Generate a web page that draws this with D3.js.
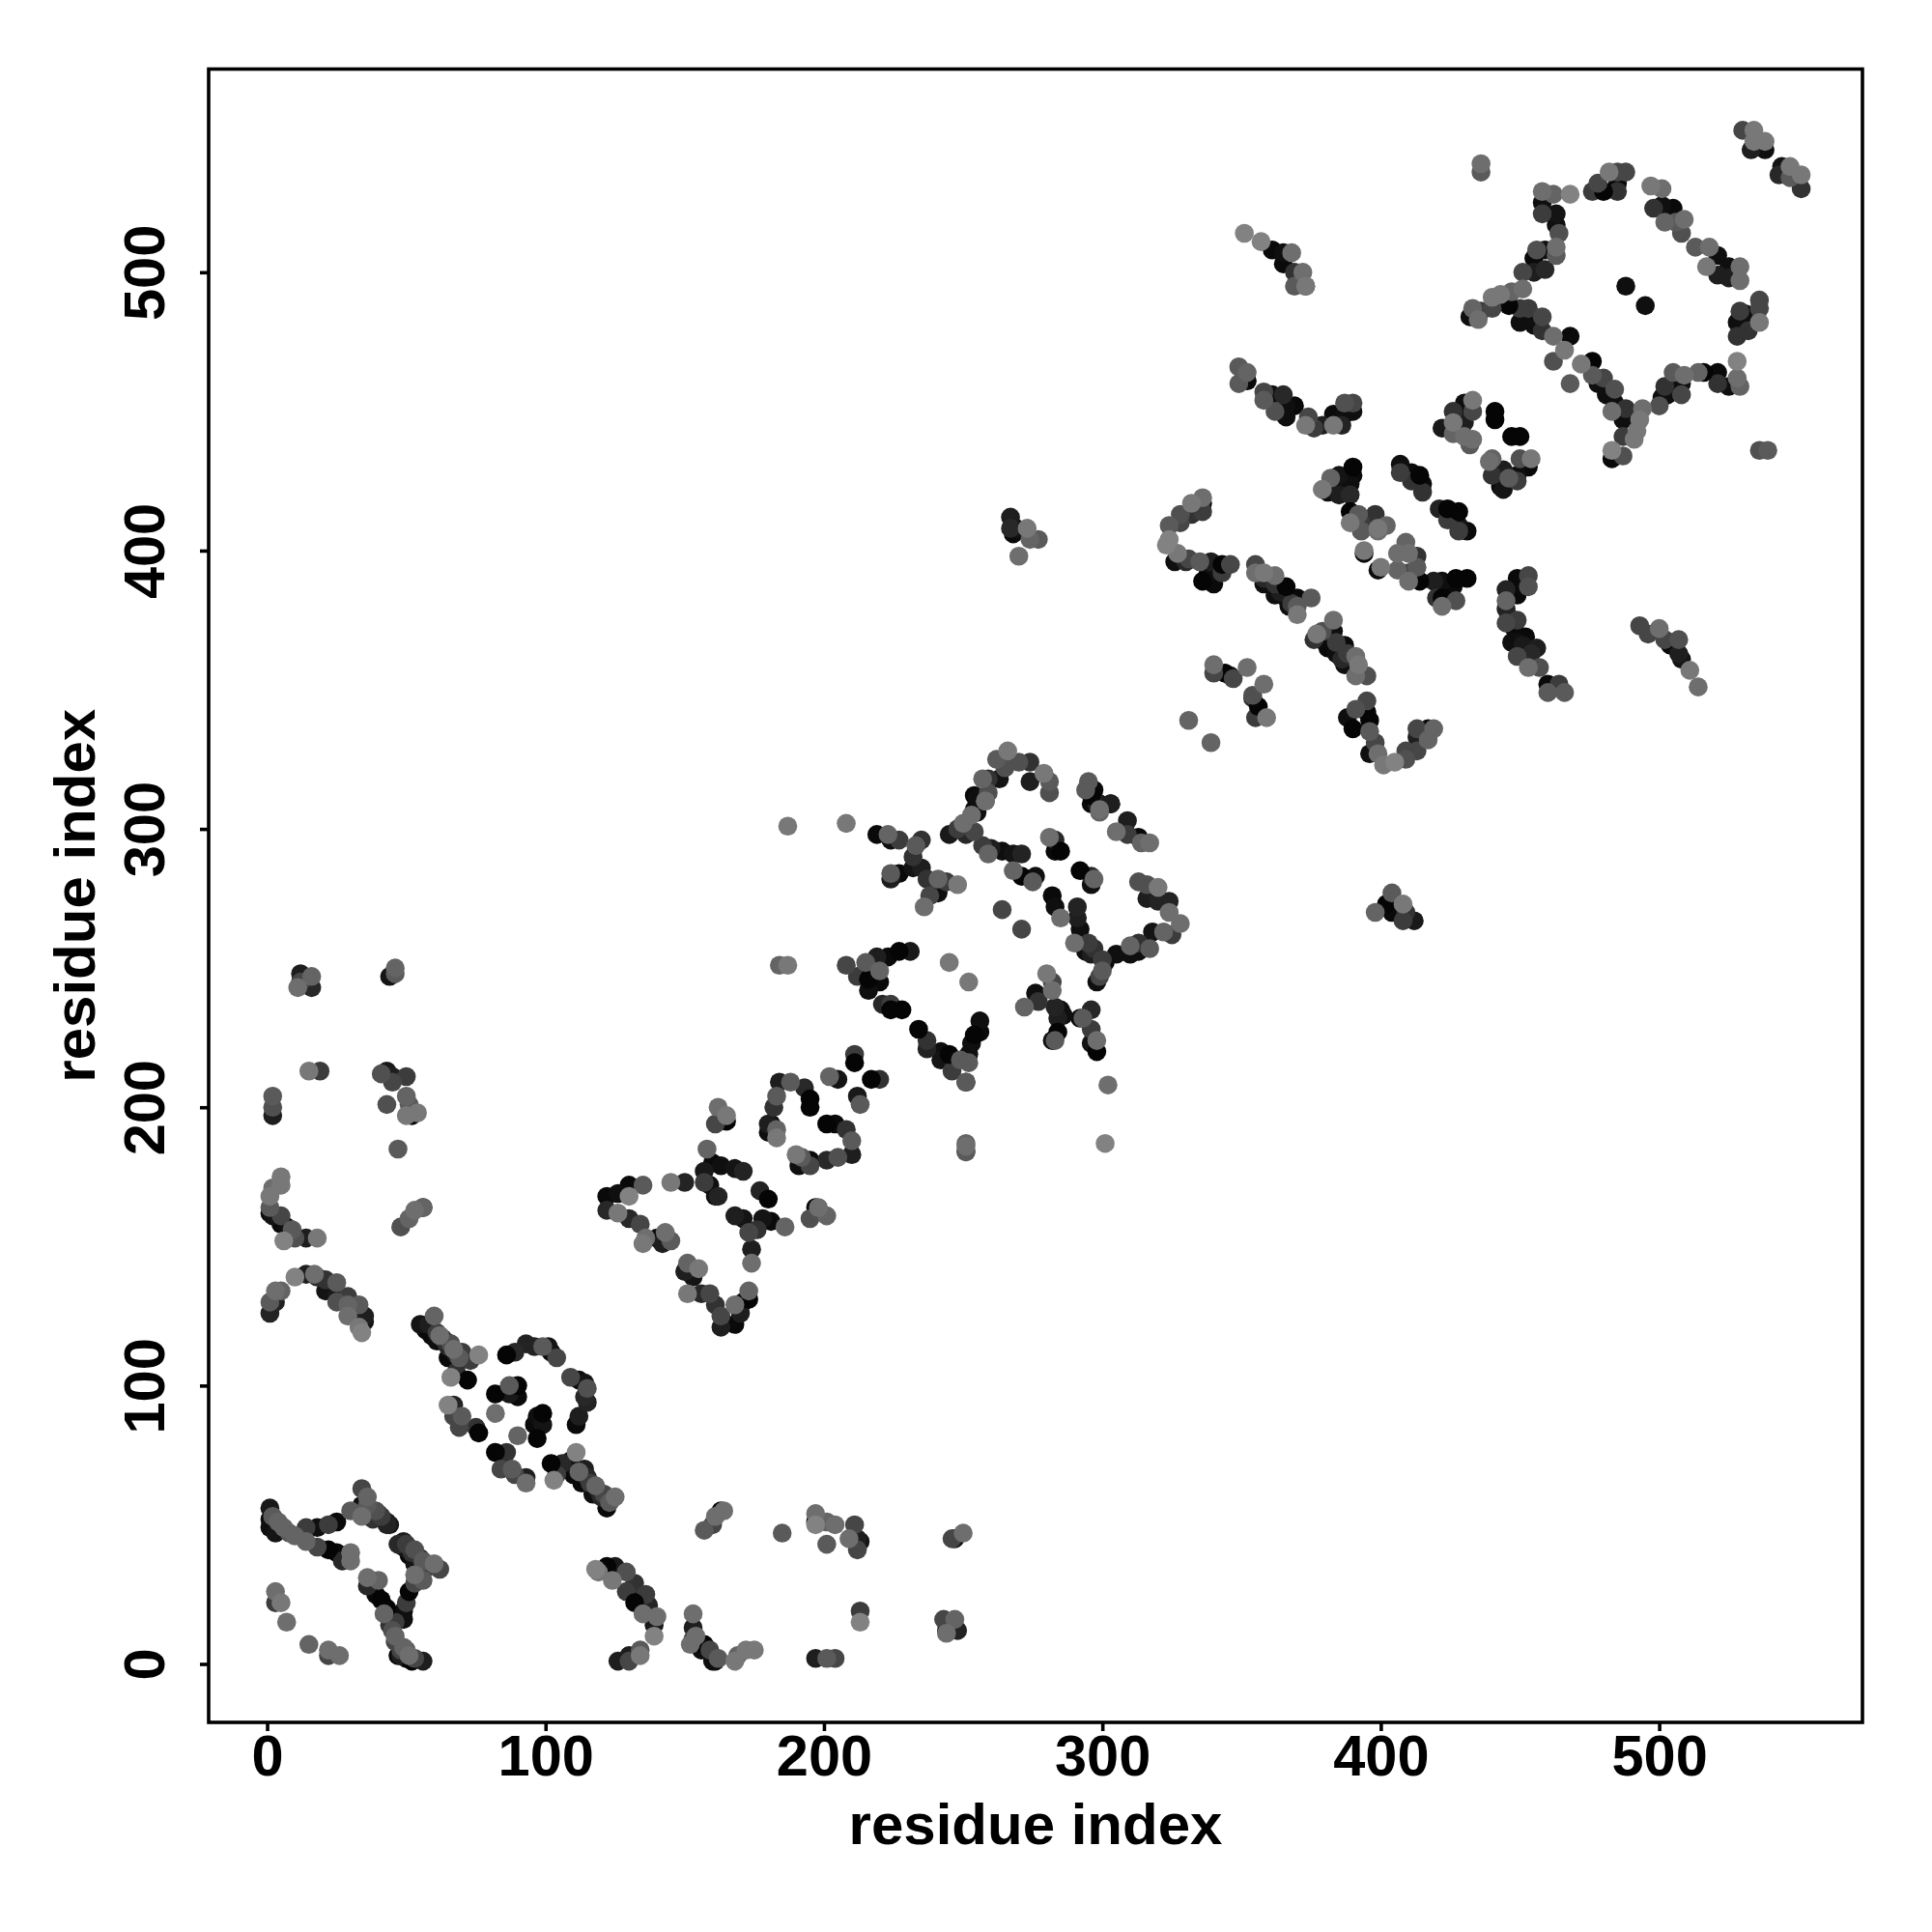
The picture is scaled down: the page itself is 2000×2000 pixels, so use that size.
<!DOCTYPE html>
<html><head><meta charset="utf-8">
<script src="https://cdn.jsdelivr.net/npm/d3@7/dist/d3.min.js"></script>
<style>html,body{margin:0;padding:0;background:#fff}svg{display:block}text{font-family:"Liberation Sans",Arial,sans-serif;font-weight:bold;fill:#000}</style>
</head><body><svg id="c" width="2000" height="2000"></svg>
<script>
const axisLabel = "residue index";
const tickValues = [0,100,200,300,400,500];
const residueDomain = [-21,573];
// each contact: [residue i, residue j, shade]
const contactsA = [[1,126,35],[3,130,35],[1,130,90],[3,134,110],[5,134,100],[10,139,130],[14,140,30],[17,140,110],[18,139,40],[21,134,20],[21,138,50],[25,137,90],[25,130,80],[25,133,25],[29,132,60],[29,129,100],[33,129,90],[29,125,110],[34,119,130],[33,121,120],[35,125,30],[35,123,20]];
const contactsB = [[55,122,20],[57,120,10],[60,125,100],[59,118,10],[62,118,110],[64,116,50],[61,116,15],[65,114,40],[67,113,110],[65,110,10],[69,110,90],[71,110,10],[73,109,60],[76,111,130],[66,103,130],[68,105,50],[72,102,5],[58,122,30],[61,119,60],[63,117,20],[66,115,80],[68,111,30],[70,112,60]];
const contactsC = [[86,111,5],[89,112,40],[93,115,35],[96,114,35],[99,114,90],[101,114,20],[102,112,10],[104,110,70],[109,103,70],[112,102,10],[114,101,20],[115,99,80],[115,94,35],[114,96,40],[112,89,30],[111,86,10],[82,97,5],[87,100,90],[87,97,25],[90,96,10],[90,100,5],[82,90,110],[97,89,15],[96,86,10],[99,90,5],[99,86,20],[97,81,5],[90,82,100],[65,93,130],[67,93,35],[67,89,70],[69,85,70],[70,89,90],[75,85,50],[76,83,5],[82,76,5],[86,76,50],[84,70,70],[88,70,90],[89,68,70],[93,65,110],[93,67,30]];
const contactsD = [[102,72,5],[104,68,60],[103,66,130],[111,76,130],[109,73,20],[112,69,100],[110,68,10],[115,67,40],[113,65,10],[118,64,100],[117,61,15],[120,60,40],[122,56,10],[122,59,20],[123,58,90],[125,60,110],[106,72,40],[114,70,30],[116,65,60],[119,62,30],[121,61,70]];
const contactsE = [[1,56,25],[2,53,90],[1,52,15],[1,49,15],[4,51,100],[3,47,20],[6,49,100],[8,47,90],[10,46,100],[14,49,60],[14,44,100],[18,49,15],[22,50,60],[25,51,10],[30,55,90],[18,42,70],[22,41,5],[25,40,10],[27,37,40],[30,40,110],[30,37,110],[34,63,70],[36,60,100],[34,57,15],[36,57,90],[39,55,80],[40,54,60],[43,51,30],[43,50,35],[34,53,110],[38,52,50],[49,44,30],[50,43,60],[49,42,20],[53,41,80],[51,39,10],[56,37,90],[53,36,20],[60,36,110],[62,34,70],[56,30,90],[53,32,110],[53,29,70],[36,31,110],[40,30,100],[36,28,40],[39,25,10],[41,23,5],[43,20,5],[51,26,5],[50,22,60],[49,19,15],[49,16,15],[46,15,60],[42,18,100],[46,10,100],[46,8,70],[49,6,100],[47,3,10],[51,3,110],[50,2,10],[52,1,5],[48,5,70],[56,1,30],[3,26,110],[3,22,60],[5,22,120],[7,15,110],[15,7,100],[22,3,70],[22,5,110],[26,3,110],[38,55,30],[41,53,60],[44,50,25],[47,43,40],[52,40,50],[58,35,70],[55,38,40],[48,3,30],[50,5,90],[53,2,70],[45,12,80],[44,14,50]];
const contactsF = [[118,34,130],[119,33,120],[122,35,5],[125,35,25],[124,30,120],[129,26,60],[129,33,80],[132,29,50],[132,24,10],[136,25,60],[132,22,5],[137,21,35],[135,18,110],[139,14,25],[140,17,110],[139,10,130],[126,1,30],[130,1,70],[130,3,30],[134,3,120],[134,5,90],[153,18,110],[153,13,30],[152,7,110],[153,9,70],[154,10,110],[157,7,5],[156,5,15],[159,5,70],[161,1,10],[160,1,15],[162,2,90],[168,1,120],[169,3,100],[172,5,120],[175,5,120],[157,48,90],[160,50,70],[163,55,10],[161,53,110],[164,55,110],[185,47,90],[197,54,110],[197,50,130],[197,51,10],[201,51,100],[204,50,110],[211,50,70],[201,43,90],[209,45,110],[212,45,30],[212,41,70],[213,44,20],[246,45,70],[247,45,15],[250,47,110],[213,19,60],[213,15,130],[197,2,30],[201,2,90],[204,2,70],[243,16,70],[247,16,100],[244,11,110],[244,12,10],[248,12,35]];
const contactsG = [[12,248,30],[12,245,70],[11,243,110],[16,243,40],[16,247,100],[44,247,20],[46,248,90],[46,250,100],[15,213,120],[19,213,60],[41,212,80],[43,213,25],[45,209,70],[45,211,30],[50,211,60],[2,204,90],[2,197,30],[2,200,80],[43,201,80],[50,204,100],[51,201,90],[50,197,120],[52,197,10],[54,198,120],[47,185,90],[5,175,120],[5,172,120],[2,171,110],[1,168,120],[1,162,10],[1,164,90],[2,161,20],[5,161,70],[5,158,10],[7,157,15],[9,156,90],[6,152,130],[10,153,80],[14,153,30],[18,153,120],[56,164,15],[56,164,100],[53,163,110],[51,160,100],[48,157,80]];
const contactsH = [[122,168,10],[122,163,40],[126,169,15],[130,172,10],[130,168,130],[135,172,90],[126,162,120],[130,160,40],[134,158,70],[135,151,120],[136,153,110],[140,153,15],[142,151,30],[143,155,110],[145,152,90],[145,173,120],[150,173,35],[158,185,100],[160,180,10],[163,179,15],[157,173,60],[157,177,25],[159,172,15],[161,168,15],[162,168,35],[168,178,20],[171,177,35],[161,194,70],[165,195,5],[162,200,110],[165,197,120],[177,170,35],[180,167,5],[168,161,30],[171,160,20],[173,155,70],[176,156,50],[178,160,20],[181,159,10],[186,157,100],[174,144,110],[174,149,30],[151,144,100],[150,141,30],[155,142,120],[153,139,20],[151,133,120],[156,133,40],[159,133,70],[161,129,50],[163,125,70],[163,121,30],[168,122,10],[170,126,30],[168,129,110],[171,130,10],[173,131,5],[173,134,100],[184,209,30],[188,209,90],[193,207,40],[195,203,5],[195,200,5],[183,204,90],[182,200,50],[180,194,30],[181,194,10],[180,191,15],[183,189,120],[183,192,100],[201,194,5],[204,194,10],[208,192,50],[210,188,90],[210,183,30],[205,182,80],[201,181,40],[191,179,15],[190,183,120],[192,182,90],[195,181,10],[195,179,70],[195,160,80],[197,164,10],[198,164,110],[201,161,100],[202,211,100],[205,210,20],[211,216,5],[211,219,60],[217,210,5],[220,210,50],[212,204,25],[213,201,90],[251,184,90],[251,186,110]];
const contactsI = [[187,301,120],[208,302,120],[219,298,10],[223,298,100],[224,296,15],[227,296,60],[233,294,90],[235,296,50],[232,290,50],[224,282,30],[224,284,90],[227,284,10],[232,286,20],[235,286,30],[237,282,50],[241,282,100],[244,281,60],[241,277,15],[238,276,70],[236,272,110],[248,280,120],[245,298,25],[248,300,60],[250,302,110],[251,298,40],[254,299,70],[257,294,60],[259,291,100],[260,293,30],[264,292,15],[268,291,20],[271,291,35],[268,285,100],[271,283,5],[275,281,90],[276,283,15],[253,305,110],[254,307,10],[255,311,15],[258,310,110],[259,313,80],[264,271,70],[271,264,70],[281,297,110],[283,296,40],[283,292,10],[285,292,5],[292,285,5],[296,283,40],[296,280,15],[297,282,100],[282,276,10],[283,272,15],[285,268,110],[291,272,35],[291,268,30],[292,264,15],[290,259,110],[295,259,60],[297,257,50],[294,256,15],[296,255,30],[301,252,10],[300,253,60],[300,249,90],[299,247,70],[298,245,15],[305,255,15],[310,258,100],[310,255,15],[313,256,15],[313,259,50],[317,257,90],[318,263,20],[322,263,100],[325,262,60],[328,266,110],[324,270,110],[324,274,35],[320,274,35],[316,275,30],[313,281,80],[316,280,80],[320,279,120],[309,303,30],[305,299,110],[309,298,60],[313,297,10],[314,295,100],[317,295,110],[296,312,5],[296,309,10],[298,309,30],[299,307,110],[303,309,15]];
const contactsJ = [[208,251,70],[212,247,60],[215,252,90],[219,254,30],[223,254,10],[227,256,5],[231,256,25],[220,249,100],[216,246,5],[220,245,10],[216,242,15],[221,237,40],[224,237,60],[224,235,5],[228,235,5],[245,252,120],[252,245,120],[184,251,100],[187,251,120],[234,228,5],[237,224,50],[237,221,35],[242,220,15],[242,217,20],[245,219,5],[246,213,60],[251,209,15],[251,209,90],[249,217,90],[252,219,15],[252,216,90],[253,223,15],[254,226,5],[256,227,10],[256,231,15],[251,184,90],[251,187,100],[301,187,130],[302,208,110],[280,248,120],[282,242,110],[282,245,70],[276,241,15],[277,238,50],[272,236,100],[283,236,35],[285,235,15],[286,233,15],[284,232,30],[284,227,5],[282,224,15],[283,224,90],[292,232,10],[293,232,90],[296,235,40],[296,228,60],[296,223,20],[298,220,5],[298,224,110]];
const contactsK = [[259,318,50],[257,318,100],[263,318,20],[262,325,90],[265,322,80],[266,328,120],[270,324,80],[274,324,50],[274,317,30],[279,320,120],[281,313,80],[281,317,90],[254,312,10],[255,306,15],[258,310,110],[294,314,90],[295,317,90],[297,314,10],[299,309,20],[299,306,100],[303,309,30],[267,412,30],[267,408,40],[269,408,20],[268,406,10],[273,408,120],[274,404,100],[277,404,90],[270,398,110],[402,273,5],[404,277,90],[404,270,10],[398,270,100],[408,273,120],[409,270,50],[408,267,60],[412,267,25]];
const contactsL = [[336,417,15],[336,419,110],[332,417,120],[336,414,60],[332,413,50],[328,413,80],[328,410,70],[324,409,90],[324,404,130],[323,402,130],[326,396,15],[327,399,120],[330,396,40],[331,397,70],[335,396,90],[336,389,5],[340,388,10],[338,392,15],[339,396,30],[343,392,60],[343,395,5],[346,395,70],[355,392,110],[355,395,70],[358,392,120],[358,388,15],[362,391,110],[362,388,50],[362,384,15],[366,383,15],[366,387,5],[370,383,10],[367,380,15],[375,383,90],[370,377,120],[370,380,90],[377,370,120],[379,371,80],[383,371,15],[383,375,110],[380,367,10],[384,363,15],[384,367,60],[387,366,10],[388,363,60],[387,359,15],[391,362,110],[391,355,110],[392,359,120],[395,355,80],[340,356,70],[340,359,110],[344,356,5],[346,355,20],[347,354,70],[352,358,110],[358,352,110],[354,347,50],[354,348,80],[356,344,5],[355,340,60],[359,340,120],[331,339,100],[339,331,100],[358,390,40],[364,385,30],[368,381,60],[376,368,50],[381,365,10],[386,361,40]];
const contactsM = [[388,340,15],[390,336,5],[391,343,80],[395,342,5],[395,346,70],[396,339,5],[396,335,90],[398,331,70],[396,327,15],[399,327,110],[409,328,70],[409,325,80],[405,324,130],[401,323,120],[413,336,70],[413,333,30],[413,328,70],[417,336,10],[417,332,100],[419,336,100],[379,422,120],[382,426,100],[381,421,15],[385,420,30],[385,424,15],[385,427,20],[389,420,40],[389,424,15],[390,427,10],[390,430,5],[389,414,5],[389,410,120],[392,413,90],[393,407,90],[393,410,60],[398,413,50],[399,408,120],[399,407,110],[402,409,100],[394,399,10],[394,400,120],[407,431,15],[407,428,60],[411,425,50],[411,428,10],[414,427,5],[415,421,50],[415,424,10],[421,415,35],[424,411,60],[424,415,5],[428,414,5],[428,407,60],[428,409,20],[431,407,10],[406,393,100],[406,399,110],[409,403,100],[410,392,70],[410,399,110],[413,394,90],[413,398,50],[399,393,10],[400,394,120],[410,389,110],[414,389,5],[419,389,30],[420,383,50],[422,380,110],[422,383,5],[422,389,15],[427,382,80],[426,387,10],[427,390,5],[431,390,5]];
const contactsN = [[445,386,35],[445,382,100],[449,390,10],[449,384,10],[453,387,80],[453,391,70],[445,379,35],[445,374,70],[449,375,60],[447,367,15],[449,367,15],[452,369,10],[456,365,30],[449,362,70],[453,362,15],[453,358,110],[457,358,80],[460,349,90],[460,352,10],[464,352,60],[466,349,90],[446,376,30],[448,372,10],[451,366,25],[454,363,40],[422,444,25],[426,450,50],[426,446,120],[428,447,15],[430,453,15],[430,446,30],[433,450,70],[433,454,120],[426,442,100],[430,441,110],[433,440,110],[432,438,90],[441,447,5],[441,450,5],[447,441,5],[450,441,5],[439,432,110],[440,433,100],[440,427,50],[444,429,30],[443,423,10],[444,422,20],[446,426,90],[449,425,60],[449,427,15],[450,433,80],[453,430,10],[454,433,120],[349,460,90],[349,466,90],[352,461,10],[352,464,100],[358,454,90],[358,457,70],[361,456,15],[365,456,40],[362,450,80],[366,448,15],[366,452,15],[369,452,10],[373,445,120],[376,444,60],[374,448,70],[379,445,30],[383,445,120],[386,445,35],[383,449,10],[387,449,15],[390,450,15],[387,453,80],[390,453,70]];
const contactsO = [[351,514,130],[357,511,130],[361,508,10],[365,503,10],[365,507,15],[368,507,110],[369,500,50],[372,500,110],[369,495,90],[373,495,50],[373,495,120],[436,536,90],[436,539,110],[530,551,70],[533,544,30],[534,547,120],[534,551,120],[538,544,15],[538,547,120],[544,538,20],[543,535,40],[547,538,120],[547,534,90],[551,530,50],[551,535,120],[458,529,110],[462,528,100],[468,528,130],[458,525,15],[458,521,60],[463,521,20],[463,517,15],[464,514,80],[456,508,80],[459,508,15],[463,506,90],[463,509,110],[455,505,10],[459,501,40],[455,500,30],[451,500,70],[476,529,60],[480,529,5],[478,532,70],[485,529,50],[485,532,10],[482,536,120],[485,536,70],[488,536,70],[497,531,120],[498,523,50],[501,524,15],[501,530,110],[505,523,10],[506,518,90],[502,518,100],[509,519,110],[508,514,80],[513,509,90],[518,509,110],[521,506,15],[517,502,120],[521,499,30],[525,502,15],[525,498,30],[529,502,110],[529,497,110],[488,495,15],[495,488,15]];
const contactsP = [[529,486,60],[531,485,15],[528,482,15],[532,479,50],[528,477,50],[536,482,120],[536,487,70],[536,490,70],[528,468,130],[521,464,10],[516,464,5],[514,464,100],[521,460,50],[525,459,15],[528,462,110],[529,459,100],[505,464,90],[509,463,110],[508,460,15],[508,456,70],[502,459,50],[503,456,15],[500,452,80],[501,455,15],[488,451,50],[487,447,15],[494,451,110],[493,447,120],[492,443,120],[491,440,120],[487,441,60],[483,433,10],[483,436,130],[487,434,80],[476,468,5],[472,467,120],[480,462,70],[484,458,80],[476,463,90],[478,460,15],[481,456,15],[484,453,15],[483,450,110],[468,460,90],[462,468,80],[462,477,110],[468,477,10],[466,472,120],[458,484,70],[453,487,60],[450,482,15],[450,487,60],[455,481,15],[458,479,50],[446,488,5],[451,494,110],[447,493,100],[443,492,120],[440,491,120],[440,487,70],[432,484,15],[436,486,60],[433,487,100],[435,483,110],[536,436,80],[539,436,90],[493,373,70],[496,370,70],[500,372,110],[502,368,70],[504,366,10],[507,368,80],[507,363,30],[508,361,20],[511,357,120],[514,351,110]];
const contacts = [contactsA,contactsB,contactsC,contactsD,contactsE,contactsF,contactsG,contactsH,contactsI,contactsJ,contactsK,contactsL,contactsM,contactsN,contactsO,contactsP].flat();

const plotLeft=216,plotRight=1928,plotTop=71.5,plotBottom=1783;
const x=d3.scaleLinear().domain(residueDomain).range([plotLeft,plotRight]);
const y=d3.scaleLinear().domain(residueDomain).range([plotBottom,plotTop]);
const svg=d3.select("#c");
const drawKey=d=>d[2]<=5?65:d[2];
const ordered=contacts.slice().sort((a,b)=>d3.ascending(drawKey(a),drawKey(b)));
svg.append("g").selectAll("circle").data(ordered).join("circle")
  .attr("cx",d=>x(d[0])).attr("cy",d=>y(d[1])).attr("r",9.8)
  .attr("fill",d=>d3.rgb(d[2],d[2],d[2]).formatHex());
svg.append("rect").attr("x",plotLeft).attr("y",plotTop).attr("width",plotRight-plotLeft).attr("height",plotBottom-plotTop)
  .attr("fill","none").attr("stroke","#000").attr("stroke-width",3.6);
const gx=svg.append("g").attr("transform",`translate(0,${plotBottom})`)
  .call(d3.axisBottom(x).tickValues(tickValues).tickSize(9).tickPadding(0));
const gy=svg.append("g").attr("transform",`translate(${plotLeft},0)`)
  .call(d3.axisLeft(y).tickValues(tickValues).tickSize(9).tickPadding(0));
[gx,gy].forEach(g=>{g.select(".domain").remove();g.selectAll(".tick line").attr("stroke","#000").attr("stroke-width",3.6);
  g.selectAll("text").attr("font-size",59.5).style("font-family",'"Liberation Sans"').style("font-weight","bold").attr("fill","#000");});
gx.selectAll("text").attr("y",0).attr("dy",0).attr("text-anchor","middle").attr("transform","translate(0,55)");
gy.selectAll("text").attr("x",0).attr("dy",0).attr("text-anchor","middle").attr("transform","translate(-46,0) rotate(-90)");
svg.append("text").attr("x",(plotLeft+plotRight)/2).attr("y",1909).attr("text-anchor","middle").attr("font-size",60).text(axisLabel);
svg.append("text").attr("transform",`translate(98,${(plotTop+plotBottom)/2}) rotate(-90)`).attr("text-anchor","middle").attr("font-size",60).text(axisLabel);
</script></body></html>
